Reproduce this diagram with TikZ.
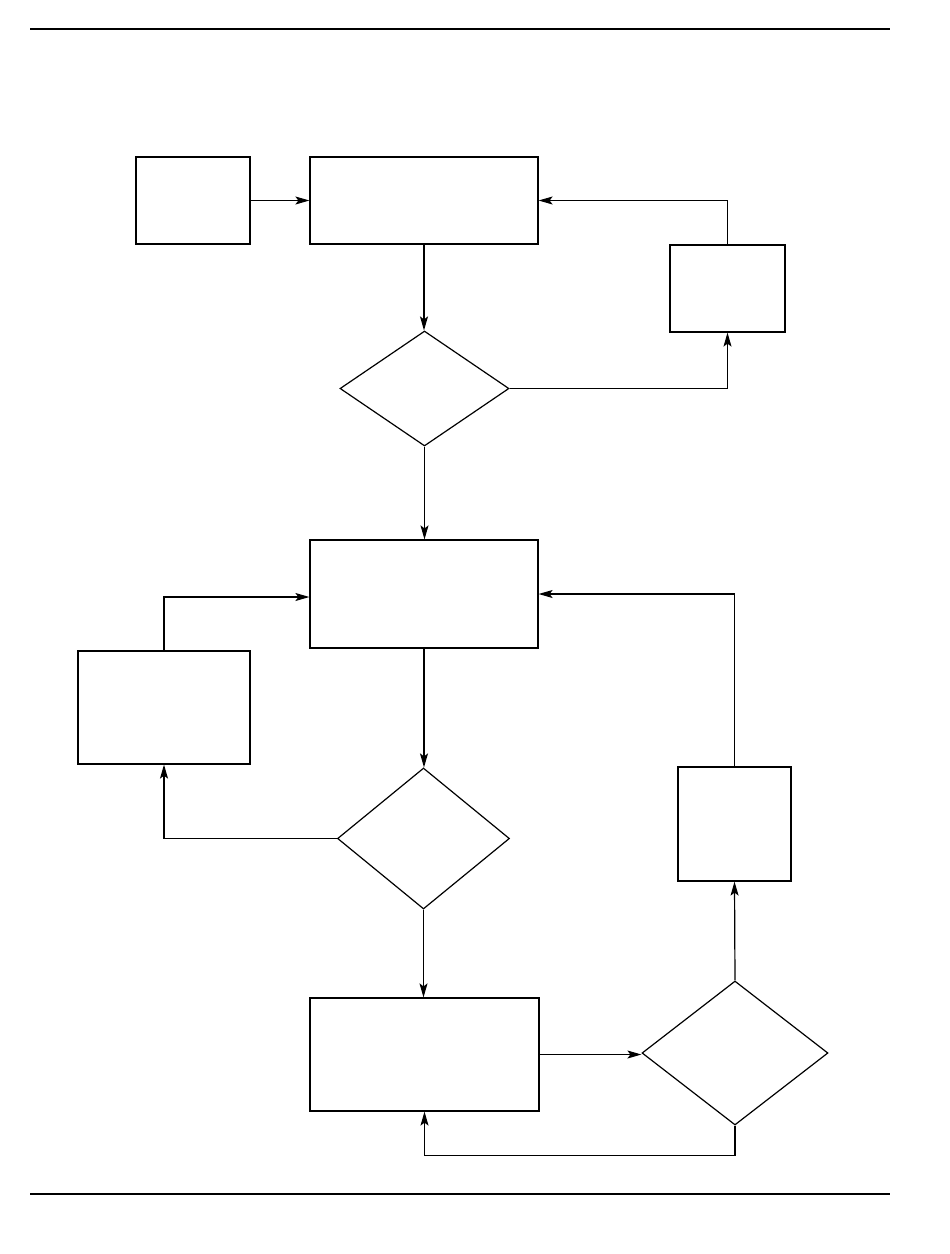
\documentclass[tikz,border=0pt]{standalone}
\usetikzlibrary{shapes.geometric,arrows.meta}
\begin{document}
\begin{tikzpicture}[x=1pt,y=-1pt,
    blk/.style={draw,line width=1.2pt,inner sep=0pt},
    dec/.style={diamond,draw,line width=1.2pt,inner sep=0pt},
    flow/.style={-{Stealth[length=14pt,width=8pt,inset=3pt]},line width=1.2pt}]
    \useasboundingbox(0,0)rectangle(950,1254);
    \draw[line width=2.5pt](30,29)--(890,29);
    \draw[line width=2.5pt](30,1194)--(890,1194);
        \node[blk,minimum width=114pt,minimum height=87pt](start)at(193,200.5){};
        \node[blk,minimum width=228pt,minimum height=87pt](init)at(424,200.5){};
        \node[blk,minimum width=115pt,minimum height=87pt](fixA)at(727.5,288.5){};
        \node[dec,minimum width=169pt,minimum height=115pt](testA)at(424.5,388.5){};
        \node[blk,minimum width=228pt,minimum height=108pt](proc)at(424,594){};
        \node[blk,minimum width=172pt,minimum height=113pt](fixB)at(164,707.5){};
        \node[dec,minimum width=172pt,minimum height=141pt](testB)at(423.5,838.5){};
        \node[blk,minimum width=113pt,minimum height=114pt](fixC)at(734.5,824){};
        \node[blk,minimum width=229pt,minimum height=113pt](out)at(424.5,1054.5){};
        \node[dec,minimum width=186pt,minimum height=144pt](testC)at(735,1053){};
    \draw[flow](start)--(init);
    \draw[flow](fixA.north)|-(init.east);
    \draw[flow](init.south)--(init.south|-testA.north);
    \draw[flow](testA.east)-|(fixA.south);
    \draw[flow](testA.south)--(testA.south|-proc.north);
    \draw[flow](fixB.north)|-([yshift=-3pt]proc.west);
    \draw[flow](proc.south)--(proc.south|-testB.north);
    \draw[flow](testB.west)-|(fixB.south);
    \draw[flow](testB.south)--(testB.south|-out.north);
    \draw[flow](out.east)--(out.east-|testC.west);
    \draw[flow](testC.north)--(fixC.south);
    \draw[flow](fixC.north)|-(proc.east);
    \draw[flow](testC.south)--++(0,30)-|(out.south);
\end{tikzpicture}
\end{document}
